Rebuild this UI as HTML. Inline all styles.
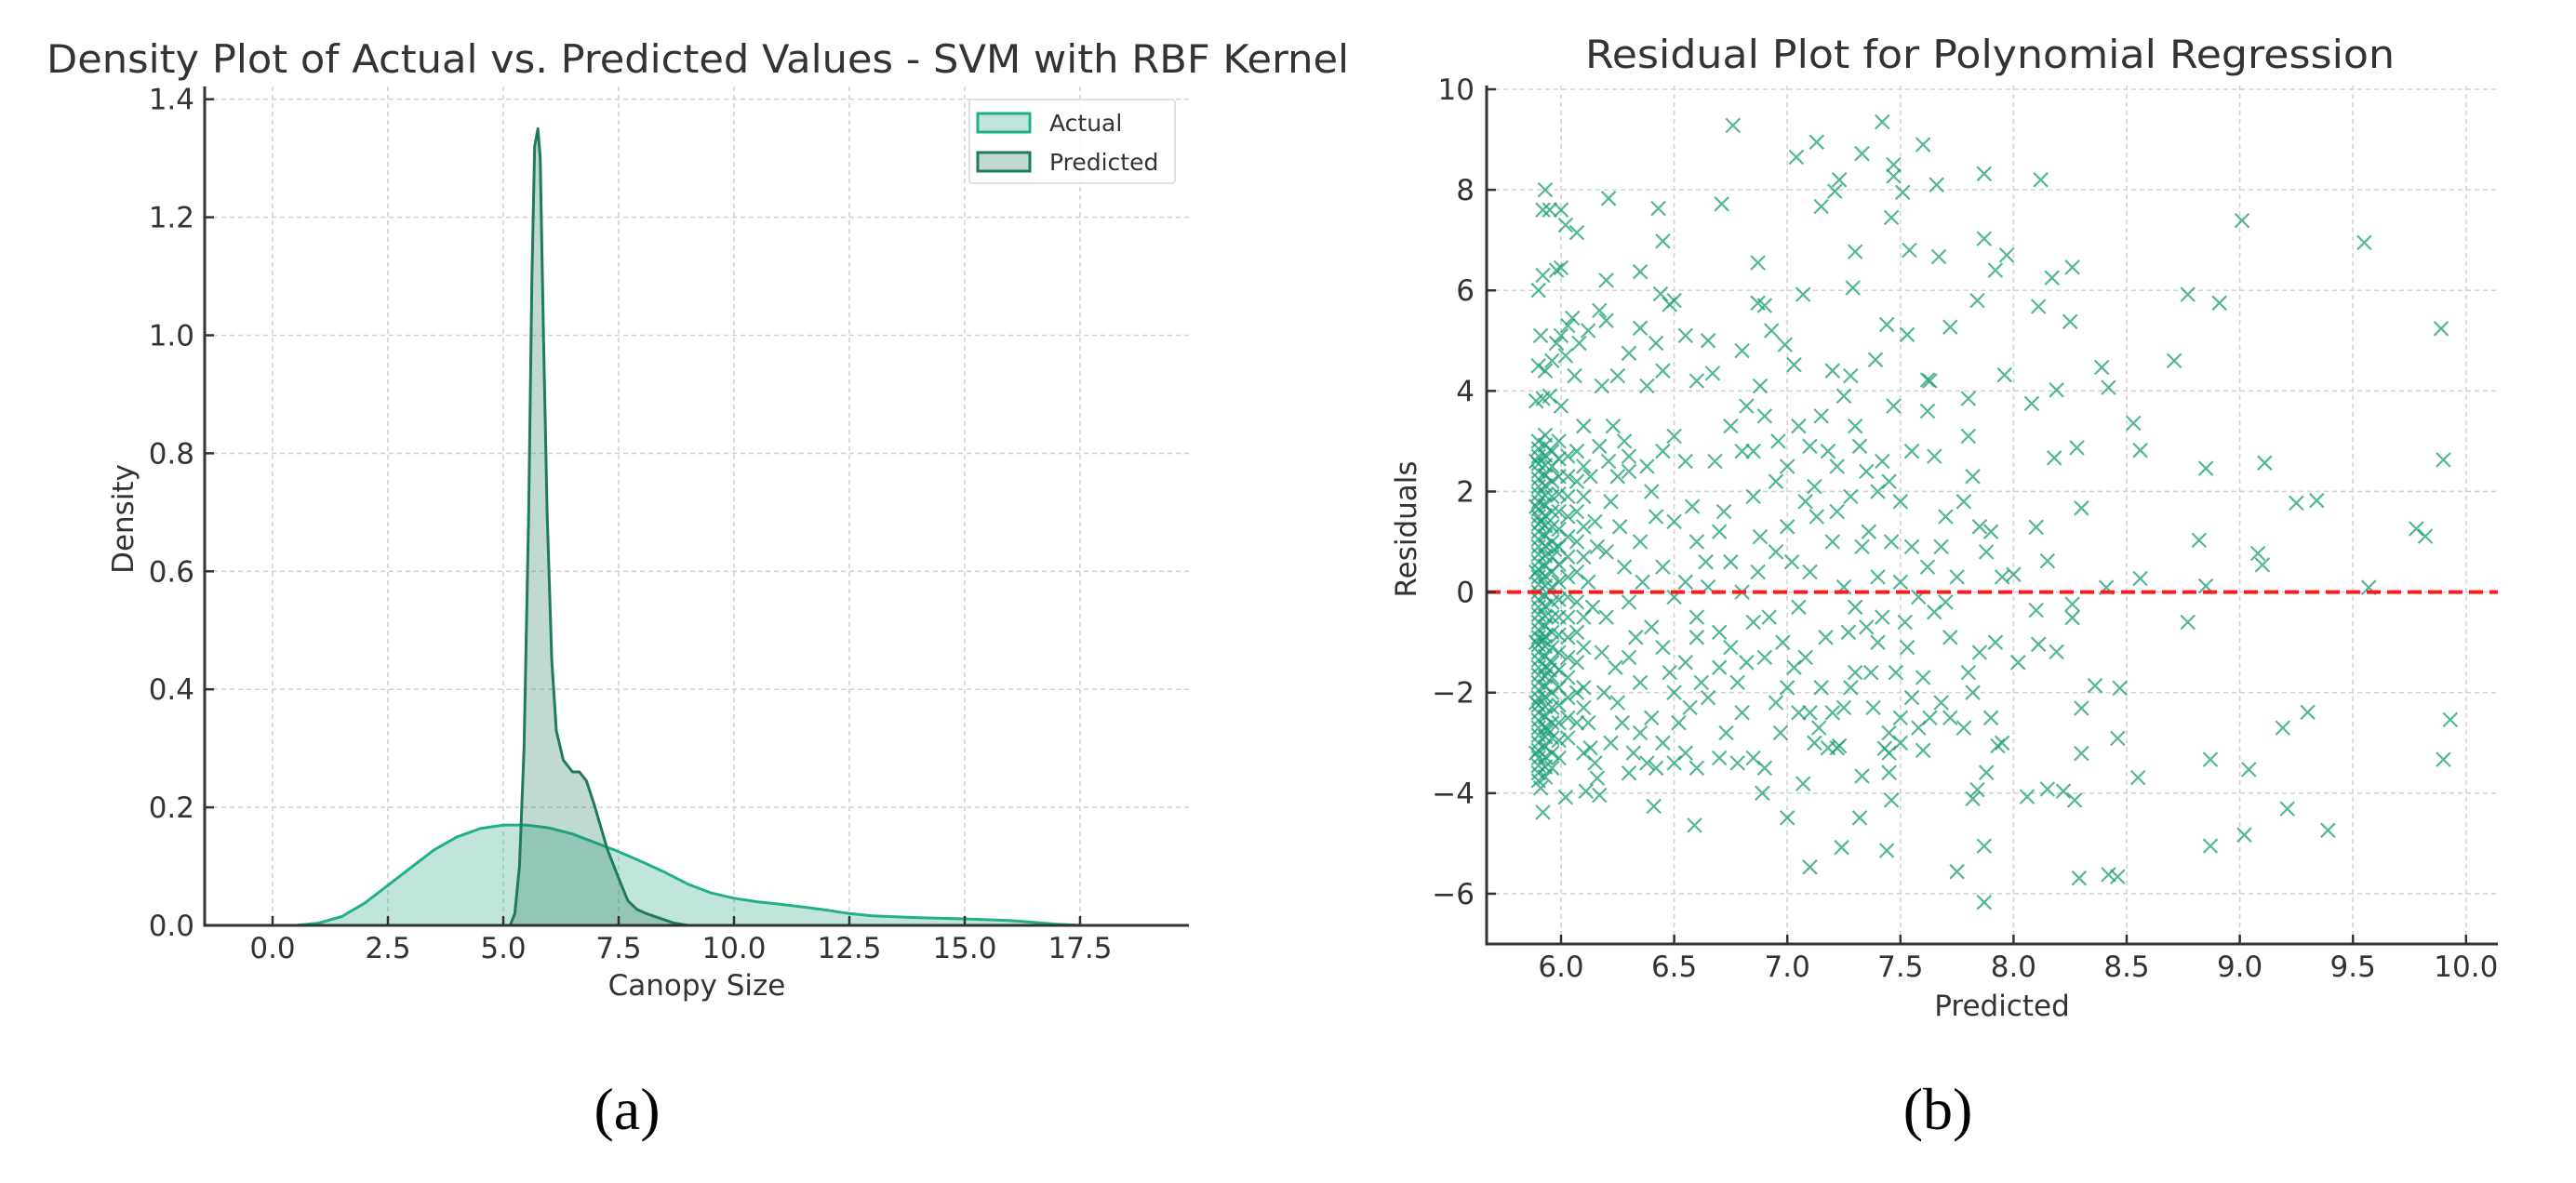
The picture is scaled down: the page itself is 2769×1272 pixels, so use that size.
<!DOCTYPE html>
<html><head><meta charset="utf-8"><style>
html,body{margin:0;padding:0;background:#fff;}
svg{display:block;font-family:"DejaVu Sans","Liberation Sans",sans-serif;}
</style></head><body>
<svg id="fig" width="2769" height="1272" viewBox="0 0 2769 1272" xmlns="http://www.w3.org/2000/svg">
<g id="pa"></g>
<g id="pb"></g>
<text x="674" y="1214" font-family="Liberation Serif, serif" font-size="64" text-anchor="middle" fill="#000">(a)</text>
<text x="2083" y="1214" font-family="Liberation Serif, serif" font-size="64" text-anchor="middle" fill="#000">(b)</text>
</svg>
<script>
// ---- Panel (a) data ----
const actualX = [0.5,1.0,1.5,2.0,2.5,3.0,3.5,4.0,4.5,5.0,5.5,6.0,6.5,7.0,7.5,8.0,8.5,9.0,9.5,10.0,10.5,11.0,11.5,12.0,12.5,13.0,14.0,15.0,16.0,16.5,17.0,17.5];
const actualY = [0.0,0.004,0.015,0.038,0.068,0.098,0.128,0.15,0.164,0.17,0.17,0.165,0.155,0.14,0.125,0.108,0.09,0.07,0.055,0.046,0.04,0.036,0.031,0.026,0.02,0.016,0.013,0.011,0.008,0.005,0.002,0.0];
const predX = [5.15,5.25,5.35,5.45,5.55,5.62,5.68,5.75,5.8,5.87,5.95,6.05,6.15,6.3,6.5,6.65,6.8,6.95,7.1,7.25,7.4,7.55,7.7,7.9,8.1,8.4,8.7,9.0];
const predY = [0.0,0.02,0.1,0.3,0.7,1.1,1.32,1.35,1.3,1.0,0.7,0.45,0.33,0.28,0.26,0.26,0.245,0.21,0.17,0.13,0.1,0.07,0.042,0.027,0.02,0.012,0.004,0.0];
const aXTicks = [0.0,2.5,5.0,7.5,10.0,12.5,15.0,17.5];
const aXTickLabels = ["0.0","2.5","5.0","7.5","10.0","12.5","15.0","17.5"];
const aYTicks = [0.0,0.2,0.4,0.6,0.8,1.0,1.2,1.4];
const aYTickLabels = ["0.0","0.2","0.4","0.6","0.8","1.0","1.2","1.4"];
// ---- Panel (b) data ----
const bXTicks = [6.0,6.5,7.0,7.5,8.0,8.5,9.0,9.5,10.0];
const bXTickLabels = ["6.0","6.5","7.0","7.5","8.0","8.5","9.0","9.5","10.0"];
const bYTicks = [-6,-4,-2,0,2,4,6,8,10];
const bYTickLabels = ["\u22126","\u22124","\u22122","0","2","4","6","8","10"];
const residPoints = [
[6.76,9.28],[7.42,9.35],[7.13,8.95],[7.04,8.65],[7.33,8.72],[7.60,8.90],[7.47,8.5],[7.47,8.27],[7.87,8.32],[8.12,8.2],[7.66,8.1],[7.23,8.2],[7.21,7.97],[7.15,7.67],[7.51,7.95],[7.46,7.45],[6.71,7.72],[9.01,7.39],[9.55,6.95],[7.87,7.03],[7.54,6.8],[7.67,6.67],[7.30,6.77],[7.97,6.7],[7.92,6.4],[8.26,6.46],[8.17,6.25],[6.87,6.55],[7.29,6.05],[7.07,5.92],[8.77,5.92],[8.91,5.75],[7.84,5.8],[8.11,5.68],[8.25,5.38],[9.89,5.24],[7.72,5.27],[7.53,5.12],[7.44,5.32],[8.71,4.6],[7.39,4.62],[7.96,4.32],[8.39,4.47],[8.19,4.02],[8.08,3.75],[8.42,4.07],[7.62,4.22],[7.03,4.52],[6.99,4.92],[8.53,3.36],[8.56,2.82],[8.28,2.87],[8.18,2.67],[8.85,2.46],[9.11,2.57],[9.90,2.63],[9.25,1.77],[9.34,1.82],[8.30,1.67],[9.78,1.26],[9.82,1.11],[8.82,1.03],[8.10,1.29],[9.08,0.77],[9.10,0.54],[8.15,0.62],[8.56,0.27],[9.57,0.09],[8.85,0.12],[8.41,0.09],[8.77,-0.6],[8.26,-0.24],[8.26,-0.51],[8.10,-0.36],[8.11,-1.04],[8.19,-1.19],[8.36,-1.86],[8.47,-1.91],[8.30,-2.31],[9.93,-2.54],[9.30,-2.39],[9.19,-2.70],[8.46,-2.91],[8.87,-3.33],[9.04,-3.53],[9.90,-3.33],[8.30,-3.21],[8.55,-3.69],[8.06,-4.07],[8.15,-3.92],[8.22,-3.96],[8.27,-4.14],[9.21,-4.31],[9.39,-4.74],[9.02,-4.83],[8.87,-5.05],[8.29,-5.69],[8.42,-5.62],[8.46,-5.66],[7.87,-6.17],[7.87,-5.05],[7.75,-5.56],[7.44,-5.14],[7.24,-5.08],[7.10,-5.47],[7.32,-4.49],[7.00,-4.49],[6.59,-4.64],[6.41,-4.26],[5.92,-4.38],[6.02,-4.08],[6.17,-4.04],[6.11,-3.96],[6.89,-4.0],[7.07,-3.81],[7.33,-3.66],[7.45,-3.59],[7.46,-4.14],[7.84,-3.93],[7.82,-4.11],[7.88,-3.59],[7.93,-3.06],[7.43,-3.11],[7.60,-3.15],[7.23,-3.06],
[5.93,8.0],[5.92,7.6],[5.95,7.6],[6.0,7.6],[6.02,7.3],[6.07,7.15],[5.92,6.3],[5.9,6.0],[5.98,6.4],[6.0,6.45],[6.21,7.83],[6.43,7.63],[6.45,6.98],[6.2,6.2],[6.35,6.37],[6.44,5.93],[6.5,5.8],[6.48,5.72],[6.17,5.6],[6.2,5.4],[6.05,5.45],[6.03,5.3],[6.0,5.1],[5.98,4.95],[5.91,5.1],[5.9,4.5],[5.93,4.4],[5.96,4.6],[6.02,4.7],[6.08,4.95],[6.12,5.2],[6.3,4.75],[6.35,5.25],[6.42,4.95],[6.45,4.4],[6.38,4.1],[6.25,4.3],[6.18,4.1],[6.06,4.3],[5.92,3.85],[5.89,3.8],[5.95,3.9],[6.0,3.7],[6.55,5.1],[6.65,5.0],[6.6,4.2],[6.67,4.35],[6.8,4.8],[6.87,5.75],[6.9,5.7],[6.93,5.2],[6.88,4.1],[6.82,3.7],[6.75,3.3],[6.85,2.8],[6.9,3.5],[6.96,3.0],[7.05,3.3],[7.1,2.9],[7.15,3.5],[7.2,4.4],[7.28,4.3],[7.25,3.9],[7.3,3.3],[7.18,2.8],[7.35,2.4],[7.4,2.0],[7.45,2.2],[7.5,1.8],[7.47,3.7],[7.55,2.8],[7.62,3.6],[7.63,4.2],[7.65,2.7],[7.7,1.5],[7.78,1.8],[7.8,3.1],[7.82,2.3],[7.8,3.85],[7.85,1.3],[7.88,0.8],[7.9,1.2],[7.95,0.3],[8.0,0.35],[8.02,-1.4],[7.92,-1.0],[7.85,-1.2],[7.8,-1.6],[7.82,-2.0],[7.9,-2.5],[7.95,-3.0],[7.78,-2.7],[7.72,-2.5],[7.68,-2.2],[7.6,-1.7],[7.55,-2.1],[7.5,-2.5],[7.45,-2.8],[7.4,-1.0],[7.35,-0.7],[7.3,-1.6],[7.25,-2.3],[7.2,-2.4],[7.15,-1.9],[7.1,-2.4],[7.05,-2.4],[7.0,-1.9],[6.95,-2.2],[6.9,-1.3],[6.85,-0.6],[6.8,-2.4],[6.75,-1.1],[6.7,-1.5],[6.65,-2.1],[6.6,-0.9],[6.55,-1.4],[6.5,-2.0],[6.45,-3.0],[6.4,-2.5],[6.35,-2.8],[6.3,-1.3],[6.25,-2.2],[6.2,-0.5],[6.15,-3.4],[6.1,-1.9],[6.5,-3.4],[6.55,-3.2],[6.6,-3.5],[6.7,-3.3],[6.78,-3.4],[6.85,-3.3],[6.9,-3.5],[7.12,-3.0],[7.18,-3.1],[7.22,-3.1],[7.45,-3.2],[7.5,-3.0],[6.3,-3.6],[6.22,-3.0],[6.12,-2.6],
[6.15,1.4],[6.2,0.8],[6.25,2.3],[6.3,2.4],[6.35,1.0],[6.4,2.0],[6.45,0.5],[6.5,1.4],[6.55,0.2],[6.6,1.0],[6.65,0.1],[6.7,1.2],[6.75,0.6],[6.8,0.0],[6.85,1.9],[6.88,1.1],[6.92,-0.5],[6.95,0.8],[7.0,1.3],[7.02,0.6],[7.05,-0.3],[7.08,1.8],[7.1,0.4],[7.13,1.5],[7.17,-0.9],[7.2,1.0],[7.22,1.6],[7.25,0.1],[7.28,1.9],[7.3,-0.3],[7.33,0.9],[7.36,1.2],[7.4,0.3],[7.42,-0.5],[7.46,1.0],[7.5,0.2],[7.52,-0.6],[7.55,0.9],[7.58,-0.1],[7.62,0.5],[7.65,-0.4],[7.68,0.9],[7.72,-0.9],[7.75,0.3],[6.3,-0.2],[6.4,-0.7],[6.5,-0.1],[6.6,-0.5],[6.7,-0.8],[6.78,-1.8],[6.98,-1.0],[7.08,-1.3],[7.28,-1.9],[7.38,-2.3],[7.48,-1.6],[7.58,-2.7],[6.28,0.5],[6.12,0.2],[6.18,-1.2],[6.22,1.8],[6.35,-1.8],[6.45,-1.1],[6.58,1.7],[6.68,2.6],[6.72,1.6],[6.8,2.8],[6.95,2.2],[7.0,2.5],[7.12,2.1],[7.22,2.5],[7.32,2.9],[7.42,2.6],[6.45,2.8],[6.5,3.1],[6.55,2.6],[6.38,2.5],[6.3,2.7],[6.28,3.0],
[6.14,-0.3],[6.16,0.9],[6.19,-2.0],[6.21,2.6],[6.24,-1.5],[6.26,1.3],[6.33,-0.9],[6.36,0.2],[6.42,1.5],[6.48,-1.6],[6.52,-2.6],[6.57,-2.3],[6.62,-1.8],[6.64,0.6],[6.73,-2.8],[6.82,-1.4],[6.87,0.4],[6.97,-2.8],[7.03,-1.5],[7.14,-2.7],[7.27,-0.8],[7.37,-1.6],[7.53,-1.1],[7.63,-2.5],[7.7,-0.2],[6.13,2.3],[6.17,2.9],[6.23,3.3],[6.27,-2.6],[6.32,-3.2],[6.38,-3.4],[6.42,-3.5],[6.13,-3.1],[6.16,-3.7],
[5.90,-3.75],[5.90,-3.6],[5.90,-3.45],[5.90,-3.3],[5.90,-3.15],[5.90,-3.0],[5.90,-2.85],[5.90,-2.7],[5.90,-2.55],[5.90,-2.4],[5.90,-2.25],[5.90,-2.1],[5.90,-1.95],[5.90,-1.8],[5.90,-1.65],[5.90,-1.5],[5.90,-1.35],[5.90,-1.2],[5.90,-1.05],[5.90,-0.9],[5.90,-0.75],[5.90,-0.6],[5.90,-0.45],[5.90,-0.3],[5.90,-0.15],[5.90,0.0],[5.90,0.15],[5.90,0.3],[5.90,0.45],[5.90,0.6],[5.90,0.75],[5.90,0.9],[5.90,1.05],[5.90,1.2],[5.90,1.35],[5.90,1.5],[5.90,1.65],[5.90,1.8],[5.90,1.95],[5.90,2.1],[5.90,2.25],[5.90,2.4],[5.90,2.55],[5.90,2.7],[5.90,2.85],[5.90,3.0],
[5.93,-3.68],[5.93,-3.48],[5.93,-3.28],[5.93,-3.08],[5.93,-2.88],[5.93,-2.68],[5.93,-2.48],[5.93,-2.28],[5.93,-2.08],[5.93,-1.88],[5.93,-1.68],[5.93,-1.48],[5.93,-1.28],[5.93,-1.08],[5.93,-0.88],[5.93,-0.68],[5.93,-0.48],[5.93,-0.28],[5.93,-0.08],[5.93,0.12],[5.93,0.32],[5.93,0.52],[5.93,0.72],[5.93,0.92],[5.93,1.12],[5.93,1.32],[5.93,1.52],[5.93,1.72],[5.93,1.92],[5.93,2.12],[5.93,2.32],[5.93,2.52],[5.93,2.72],[5.93,2.92],[5.93,3.12],
[5.96,-3.5],[5.96,-3.2],[5.96,-2.9],[5.96,-2.6],[5.96,-2.3],[5.96,-2.0],[5.96,-1.7],[5.96,-1.4],[5.96,-1.1],[5.96,-0.8],[5.96,-0.5],[5.96,-0.2],[5.96,0.1],[5.96,0.4],[5.96,0.7],[5.96,1.0],[5.96,1.3],[5.96,1.6],[5.96,1.9],[5.96,2.2],[5.96,2.5],[5.96,2.8],
[5.99,-3.3],[5.99,-2.95],[5.99,-2.6],[5.99,-2.25],[5.99,-1.9],[5.99,-1.55],[5.99,-1.2],[5.99,-0.85],[5.99,-0.5],[5.99,-0.15],[5.99,0.2],[5.99,0.55],[5.99,0.9],[5.99,1.25],[5.99,1.6],[5.99,1.95],[5.99,2.3],[5.99,2.65],[5.99,3.0],
[6.03,-2.9],[6.03,-2.5],[6.03,-2.1],[6.03,-1.7],[6.03,-1.3],[6.03,-0.9],[6.03,-0.5],[6.03,-0.1],[6.03,0.3],[6.03,0.7],[6.03,1.1],[6.03,1.5],[6.03,1.9],[6.03,2.3],[6.03,2.7],
[6.07,-2.6],[6.07,-2.0],[6.07,-1.4],[6.07,-0.8],[6.07,-0.2],[6.07,0.4],[6.07,1.0],[6.07,1.6],[6.07,2.2],[6.07,2.8],
[6.10,-3.2],[6.10,-2.3],[6.10,-1.1],[6.10,-0.5],[6.10,0.7],[6.10,1.3],[6.10,1.9],[6.10,2.5],[6.10,3.3],
[5.89,-3.2],[5.89,-2.2],[5.89,-1.0],[5.89,0.4],[5.89,1.7],[5.89,2.6],[5.91,-3.9],[5.92,-0.95],[5.95,-1.55],[5.97,0.85],[5.91,1.4],[5.94,-2.75]
];
const NS="http://www.w3.org/2000/svg";
function mk(parent,tag,attrs){const e=document.createElementNS(NS,tag);for(const k in attrs)e.setAttribute(k,attrs[k]);parent.appendChild(e);return e;}

// ---------------- Panel A ----------------
(function(){
const g=document.getElementById('pa');
const L=220,R=1278,T=93,B=995;
const sx=v=>293+v*(124/2.5);
const sy=v=>995-v*(126.9/0.2);
aXTicks.forEach((v,i)=>{const l=mk(g,'line',{x1:sx(v),x2:sx(v),y1:T,y2:B,stroke:'#d4d4d4','stroke-width':1.6,'stroke-dasharray':'5,4'});
});
aYTicks.forEach((v,i)=>{const l=mk(g,'line',{x1:L,x2:R,y1:sy(v),y2:sy(v),stroke:'#d4d4d4','stroke-width':1.6,'stroke-dasharray':'5,4'});
});
function area(xs,ys,fill,stroke,name){
  let d='M'+sx(xs[0])+','+sy(0);
  for(let i=0;i<xs.length;i++)d+=' L'+sx(xs[i]).toFixed(1)+','+sy(ys[i]).toFixed(1);
  d+=' L'+sx(xs[xs.length-1])+','+sy(0)+' Z';
  const p=mk(g,'path',{d:d,fill:fill,stroke:'none'});
  
  let d2='M'+sx(xs[0]).toFixed(1)+','+sy(ys[0]).toFixed(1);
  for(let i=1;i<xs.length;i++)d2+=' L'+sx(xs[i]).toFixed(1)+','+sy(ys[i]).toFixed(1);
  const l=mk(g,'path',{d:d2,fill:'none',stroke:stroke,'stroke-width':3,'stroke-linejoin':'round'});
  
}
area(actualX,actualY,'rgba(27,158,119,0.27)','#22b08a','actual-density');
area(predX,predY,'rgba(29,118,90,0.28)','#1f7a5e','predicted-density');
let s=mk(g,'line',{x1:L,x2:L,y1:T,y2:B+1.5,stroke:'#333','stroke-width':3});

s=mk(g,'line',{x1:L-1.5,x2:R,y1:B,y2:B,stroke:'#333','stroke-width':3});

aXTicks.forEach((v,i)=>{const t=mk(g,'line',{x1:sx(v),x2:sx(v),y1:B,y2:B-10,stroke:'#333','stroke-width':2.5});

const tx=mk(g,'text',{x:sx(v),y:1030,'font-size':31,'text-anchor':'middle',fill:'#333'});tx.textContent=aXTickLabels[i];
});
aYTicks.forEach((v,i)=>{const t=mk(g,'line',{x1:L,x2:L+10,y1:sy(v),y2:sy(v),stroke:'#333','stroke-width':2.5});

const tx=mk(g,'text',{x:209,y:sy(v)+11,'font-size':31,'text-anchor':'end',fill:'#333'});tx.textContent=aYTickLabels[i];
});
let t=mk(g,'text',{x:750,y:78,'font-size':42,'text-anchor':'middle',fill:'#333',textLength:1400,lengthAdjust:'spacingAndGlyphs'});t.textContent='Density Plot of Actual vs. Predicted Values - SVM with RBF Kernel';

t=mk(g,'text',{x:749,y:1070,'font-size':31,'text-anchor':'middle',fill:'#333'});t.textContent='Canopy Size';

t=mk(g,'text',{x:0,y:0,'font-size':31,'text-anchor':'middle',fill:'#333',transform:'translate(143,558) rotate(-90)'});t.textContent='Density';

const lg=mk(g,'g',{});
let r=mk(lg,'rect',{x:1042,y:107,width:221,height:90,rx:3,fill:'rgba(255,255,255,0.85)',stroke:'#e0e0e0','stroke-width':2});

r=mk(lg,'rect',{x:1051,y:122,width:56,height:20,fill:'rgba(27,158,119,0.27)',stroke:'#22b08a','stroke-width':3});

r=mk(lg,'rect',{x:1051,y:164,width:56,height:20,fill:'rgba(29,118,90,0.28)',stroke:'#1f7a5e','stroke-width':3});

t=mk(lg,'text',{x:1128,y:141,'font-size':25,fill:'#333'});t.textContent='Actual';

t=mk(lg,'text',{x:1128,y:183,'font-size':25,fill:'#333'});t.textContent='Predicted';

})();

// ---------------- Panel B ----------------
(function(){
const g=document.getElementById('pb');
const L=1598,R=2685,T=92,B=1015;
const sx=v=>1678+(v-6)*243.2;
const sy=v=>96+(10-v)*54.06;
bXTicks.forEach((v,i)=>{const l=mk(g,'line',{x1:sx(v),x2:sx(v),y1:T,y2:B,stroke:'#d4d4d4','stroke-width':1.6,'stroke-dasharray':'5,4'});
});
bYTicks.forEach((v,i)=>{const l=mk(g,'line',{x1:L,x2:R,y1:sy(v),y2:sy(v),stroke:'#d4d4d4','stroke-width':1.6,'stroke-dasharray':'5,4'});
});
const pg=mk(g,'g',{stroke:'#1b9e77','stroke-width':2.2,'stroke-opacity':0.75,fill:'none'});

const h=7.5;
residPoints.forEach(p=>{const x=sx(p[0]),y=sy(p[1]);
const m=mk(pg,'path',{d:`M${(x-h).toFixed(1)},${(y-h).toFixed(1)} L${(x+h).toFixed(1)},${(y+h).toFixed(1)} M${(x-h).toFixed(1)},${(y+h).toFixed(1)} L${(x+h).toFixed(1)},${(y-h).toFixed(1)}`});
});
let z=mk(g,'line',{x1:L,x2:R,y1:sy(0),y2:sy(0),stroke:'#ff1a1a','stroke-width':4,'stroke-dasharray':'15,7'});

let s=mk(g,'line',{x1:L,x2:L,y1:T,y2:B+1.5,stroke:'#333','stroke-width':3});

s=mk(g,'line',{x1:L-1.5,x2:R,y1:B,y2:B,stroke:'#333','stroke-width':3});

bXTicks.forEach((v,i)=>{const t=mk(g,'line',{x1:sx(v),x2:sx(v),y1:B,y2:B-10,stroke:'#333','stroke-width':2.5});

const tx=mk(g,'text',{x:sx(v),y:1050,'font-size':31,'text-anchor':'middle',fill:'#333'});tx.textContent=bXTickLabels[i];
});
bYTicks.forEach((v,i)=>{const t=mk(g,'line',{x1:L,x2:L+10,y1:sy(v),y2:sy(v),stroke:'#333','stroke-width':2.5});

const tx=mk(g,'text',{x:1585,y:sy(v)+11,'font-size':31,'text-anchor':'end',fill:'#333'});tx.textContent=bYTickLabels[i];
});
let t=mk(g,'text',{x:2139,y:73,'font-size':42,'text-anchor':'middle',fill:'#333',textLength:870,lengthAdjust:'spacingAndGlyphs'});t.textContent='Residual Plot for Polynomial Regression';

t=mk(g,'text',{x:2152,y:1092,'font-size':31,'text-anchor':'middle',fill:'#333'});t.textContent='Predicted';

t=mk(g,'text',{x:0,y:0,'font-size':31,'text-anchor':'middle',fill:'#333',transform:'translate(1522,569) rotate(-90)'});t.textContent='Residuals';

})();
</script>
</body></html>
